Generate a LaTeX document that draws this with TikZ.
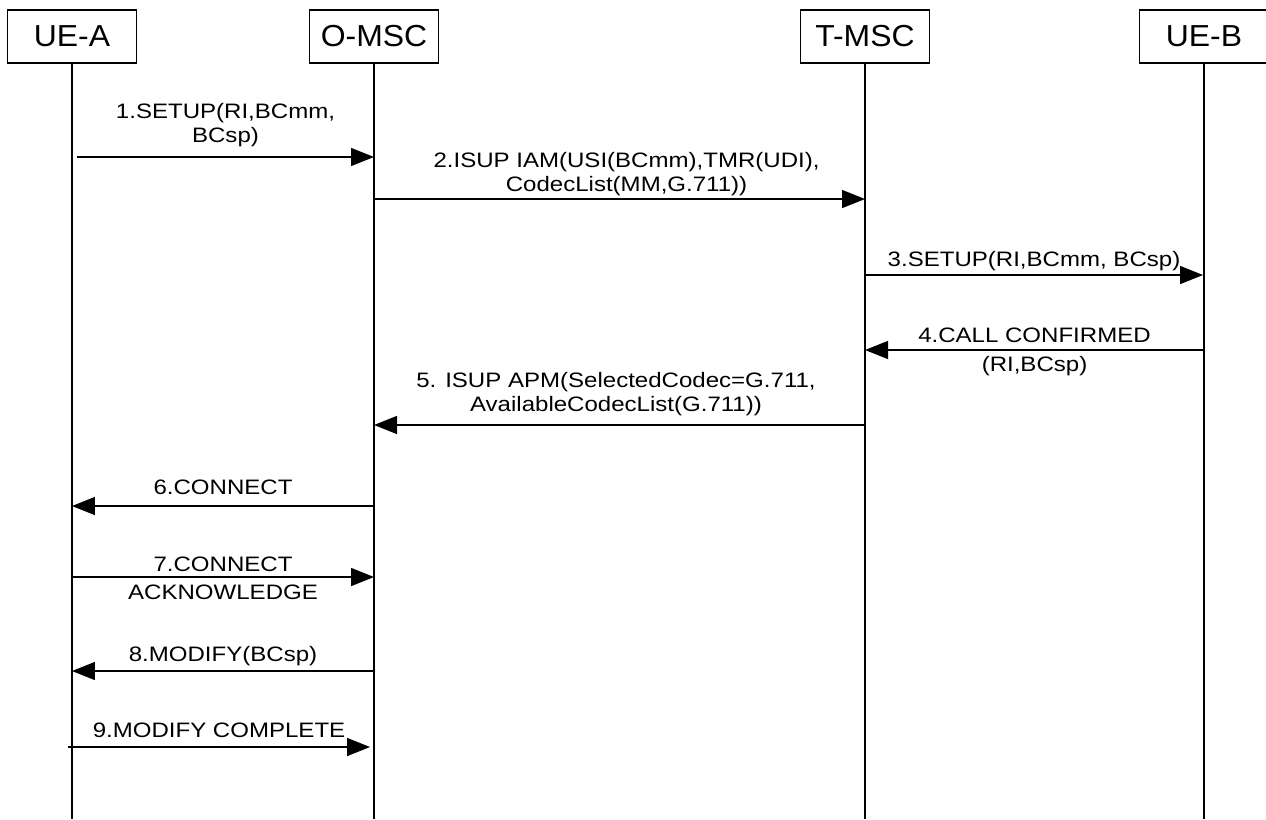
\documentclass[tikz,border=0pt]{standalone}
\usepackage{fontspec}
\setmainfont{Liberation Sans}
\newfontfamily\boxfont[FakeStretch=1.05]{Liberation Sans}
\newfontfamily\msgfont[FakeStretch=1.15]{Liberation Sans}
\usetikzlibrary{positioning,arrows.meta}

\begin{document}
\begin{tikzpicture}[x=0.02cm, y=-0.02cm,
  entity/.style={draw, line width=0.8pt, minimum width=2.58cm, minimum height=1.06cm, inner sep=0pt, font=\boxfont\fontsize{17.3}{20}\selectfont},
  life/.style={line width=0.8pt},
  msg/.style={-{Triangle[length=0.46cm, width=0.36cm]}, line width=0.8pt},
  lbl/.style={font=\msgfont\fontsize{11.9}{13.8}\selectfont, align=center, inner sep=0pt, text depth=0pt}
]
\useasboundingbox (0,0) rectangle (1266,819);

% entities
\node[entity] (uea) at (72,36.5) {UE-A};
\node[entity] (omsc) at (374,36.5) {O-MSC};
\node[entity] (tmsc) at (865,36.5) {T-MSC};
\node[entity] (ueb) at (1204,36.5) {UE-B};

% lifelines
\coordinate (uea-end) at (72,819);
\coordinate (omsc-end) at (374,819);
\coordinate (tmsc-end) at (865,819);
\coordinate (ueb-end) at (1204,819);
\draw[life] (uea.south) -- (uea-end);
\draw[life] (omsc.south) -- (omsc-end);
\draw[life] (tmsc.south) -- (tmsc-end);
\draw[life] (ueb.south) -- (ueb-end);

% message end points
\coordinate (m1a) at (77,157);   \coordinate (m1b) at (374,157);
\coordinate (m2a) at (374,199);  \coordinate (m2b) at (865,199);
\coordinate (m3a) at (865,275);  \coordinate (m3b) at (1203,275);
\coordinate (m4a) at (1204,350); \coordinate (m4b) at (865,350);
\coordinate (m5a) at (865,425);  \coordinate (m5b) at (374,425);
\coordinate (m6a) at (374,506);  \coordinate (m6b) at (72,506);
\coordinate (m7a) at (72,577);   \coordinate (m7b) at (374,577);
\coordinate (m8a) at (374,671);  \coordinate (m8b) at (72,671);
\coordinate (m9a) at (68,747);   \coordinate (m9b) at (370,747);

% messages
\draw[msg] (m1a) -- (m1b) node[lbl, midway, above=8pt] (l1) {1.SETUP(RI,BCmm,\\BCsp)};
\draw[msg] (m2a) -- (m2b) node[lbl, midway, above=4pt, xshift=4pt] (l2) {2.ISUP IAM(USI(BCmm),TMR(UDI),\\CodecList(MM,G.711))};
\draw[msg] (m3a) -- (m3b) node[lbl, midway, above=4.5pt] (l3) {3.SETUP(RI,BCmm, BCsp)};
\draw[msg] (m4a) -- (m4b) node[lbl, midway, above=4pt] (l4a) {4.CALL CONFIRMED}
                          node[lbl, midway, below=3pt] (l4b) {(RI,BCsp)};
\draw[msg] (m5a) -- (m5b) node[lbl, midway, above=7.4pt, xshift=-2pt] (l5) {5. ISUP APM(SelectedCodec=G.711,\\AvailableCodecList(G.711))};
\draw[msg] (m6a) -- (m6b) node[lbl, midway, above=6pt] (l6) {6.CONNECT};
\draw[msg] (m7a) -- (m7b) node[lbl, midway, above=2.8pt] (l7a) {7.CONNECT}
                          node[lbl, midway, below=4pt] (l7b) {ACKNOWLEDGE};
\draw[msg] (m8a) -- (m8b) node[lbl, midway, above=5pt] (l8) {8.MODIFY(BCsp)};
\draw[msg] (m9a) -- (m9b) node[lbl, midway, above=5.2pt] (l9) {9.MODIFY COMPLETE};
\end{tikzpicture}
\end{document}
